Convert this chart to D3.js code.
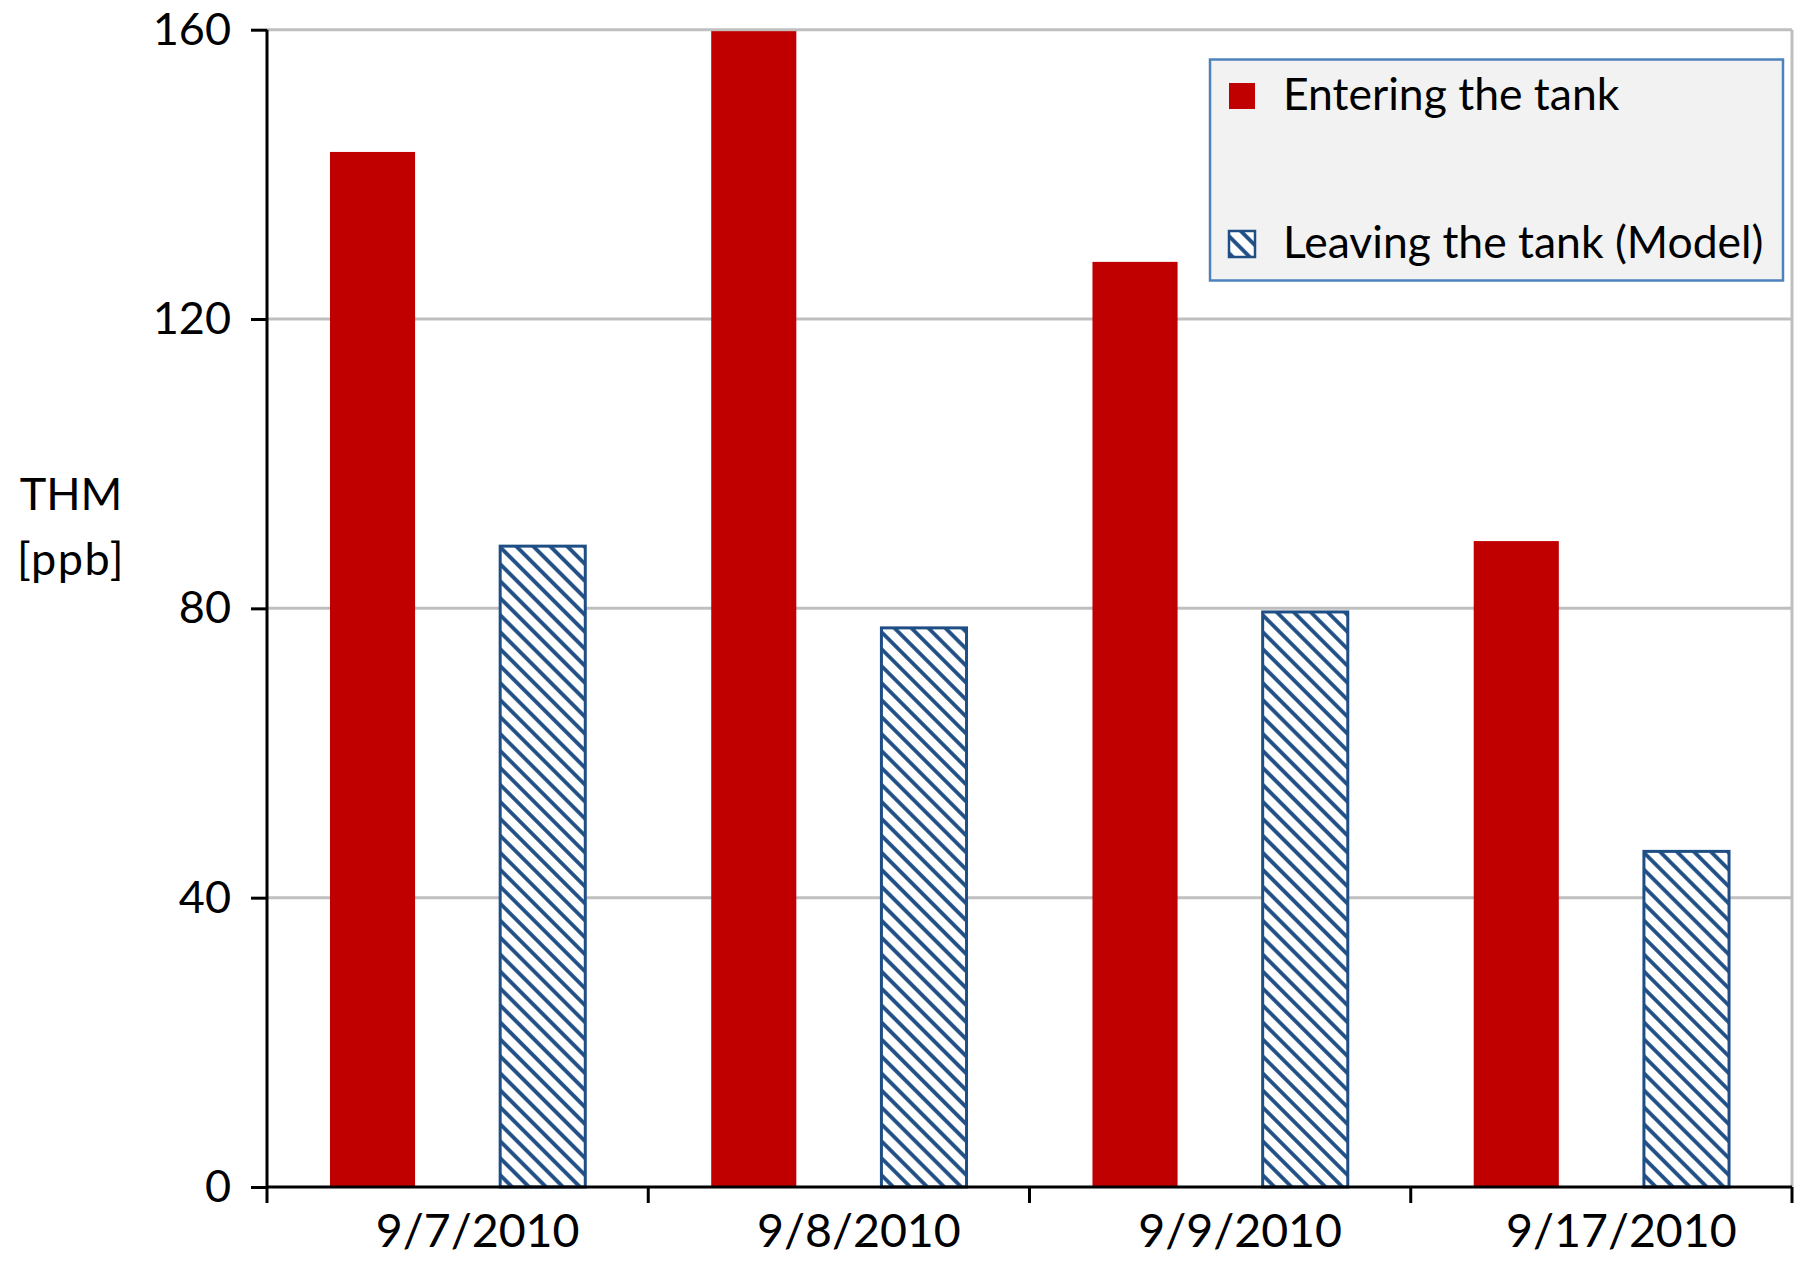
<!DOCTYPE html>
<html>
<head>
<meta charset="utf-8">
<script src="https://cdn.jsdelivr.net/npm/d3@7"></script>
<style>
  html, body { margin: 0; padding: 0; background: #ffffff; }
  svg { display: block; }
  text { font-family: Lato, "Open Sans", sans-serif; fill: #000; }
</style>
</head>
<body>
<svg id="chart" width="1802" height="1261"></svg>
<script>
// THM concentrations entering and leaving the storage tank
const categories = ["9/7/2010", "9/8/2010", "9/9/2010", "9/17/2010"];
const seriesNames = ["Entering the tank", "Leaving the tank (Model)"];
const enteringValues = [143.1, 159.8, 127.9, 89.3];
const leavingValues = [88.6, 77.3, 79.5, 46.4];
const yTicks = [0, 40, 80, 120, 160];

const svg = d3.select("#chart");
const plot = { left: 267, right: 1792, top: 29.7, bottom: 1187 };

const defs = svg.append("defs");
const hatch = defs.append("pattern")
  .attr("id", "hatch")
  .attr("patternUnits", "userSpaceOnUse")
  .attr("width", 12).attr("height", 12)
  .attr("patternTransform", "rotate(-45)");
hatch.append("rect").attr("width", 12).attr("height", 12).attr("fill", "#ffffff");
hatch.append("line")
  .attr("x1", 6).attr("y1", -2).attr("x2", 6).attr("y2", 14)
  .attr("stroke", "#1f4e85").attr("stroke-width", 3.8);

const x0 = d3.scaleBand().domain(categories).range([plot.left, plot.right]).padding(0);
const x1 = d3.scaleBand().domain(seriesNames).range([0, x0.bandwidth()])
  .paddingInner(0.5).paddingOuter(0.37);
const y = d3.scaleLinear().domain([0, 160]).range([plot.bottom, plot.top]);

// gridlines
svg.append("g").selectAll("line")
  .data(yTicks.filter(d => d > 0))
  .join("line")
  .attr("x1", plot.left).attr("x2", plot.right)
  .attr("y1", d => y(d)).attr("y2", d => y(d))
  .attr("stroke", "#bfbfbf").attr("stroke-width", 3);

// right border of the plot area
svg.append("line")
  .attr("x1", plot.right).attr("x2", plot.right)
  .attr("y1", y(160)).attr("y2", plot.bottom)
  .attr("stroke", "#bfbfbf").attr("stroke-width", 3);

const rows = categories.map((c, i) => ({
  cat: c,
  values: [
    { key: seriesNames[0], v: enteringValues[i] },
    { key: seriesNames[1], v: leavingValues[i] }
  ]
}));

const groups = svg.append("g").selectAll("g")
  .data(rows).join("g")
  .attr("transform", d => `translate(${x0(d.cat)},0)`);

groups.selectAll("rect")
  .data(d => d.values)
  .join("rect")
  .attr("x", d => x1(d.key))
  .attr("width", x1.bandwidth())
  .attr("y", d => y(d.v))
  .attr("height", d => y(0) - y(d.v))
  .attr("fill", d => d.key === seriesNames[0] ? "#c00000" : "url(#hatch)")
  .attr("stroke", d => d.key === seriesNames[0] ? "none" : "#1f4e85")
  .attr("stroke-width", 3);

// y axis
const yAxis = d3.axisLeft(y).tickValues(yTicks).tickSize(16).tickPadding(20);
const gy = svg.append("g").attr("transform", `translate(${plot.left},0)`).call(yAxis);
gy.select(".domain").attr("stroke", "#000").attr("stroke-width", 3)
  .attr("d", `M0,${plot.top}V${plot.bottom}`);
gy.selectAll(".tick line").attr("stroke", "#000").attr("stroke-width", 3);
gy.selectAll(".tick text").style("font-family", "Lato, sans-serif").style("font-size", "45px")
  .attr("fill", "#000");

// x axis with ticks at category boundaries
const gx = svg.append("g").attr("transform", `translate(0,${plot.bottom})`);
gx.append("line").attr("x1", plot.left).attr("x2", plot.right)
  .attr("stroke", "#000").attr("stroke-width", 3);
const bounds = categories.map(c => x0(c)).concat([plot.right]);
gx.selectAll("line.tk").data(bounds).join("line").attr("class", "tk")
  .attr("x1", d => d).attr("x2", d => d).attr("y1", 0).attr("y2", 16)
  .attr("stroke", "#000").attr("stroke-width", 3);
gx.selectAll("text").data(categories).join("text")
  .attr("x", d => x0(d) + x0.bandwidth() / 2 + 20)
  .attr("y", 60)
  .attr("text-anchor", "middle")
  .style("font-size", "46.5px")
  .text(d => d);

// y axis title
const yt = svg.append("text").attr("text-anchor", "middle").style("font-size", "45px");
yt.append("tspan").attr("x", 71).attr("y", 510).text("THM");
yt.append("tspan").attr("x", 71).attr("y", 575).attr("letter-spacing", "1.5px").text("[ppb]");

// legend
const lg = svg.append("g");
lg.append("rect").attr("x", 1210).attr("y", 59.5).attr("width", 573).attr("height", 221)
  .attr("fill", "#f2f2f2").attr("stroke", "#4f81bd").attr("stroke-width", 2.5);
const legendItems = [
  { name: seriesNames[0], fill: "#c00000", stroke: "none", y: 96 },
  { name: seriesNames[1], fill: "url(#hatch)", stroke: "#1f4e85", y: 244 }
];
const li = lg.selectAll("g").data(legendItems).join("g");
li.append("rect")
  .attr("x", 1229).attr("y", d => d.y - 13).attr("width", 26).attr("height", 26)
  .attr("fill", d => d.fill).attr("stroke", d => d.stroke).attr("stroke-width", 2.5);
li.append("text")
  .attr("x", 1283).attr("y", d => d.y + 14)
  .style("font-size", "44.5px")
  .text(d => d.name);
</script>
</body>
</html>
